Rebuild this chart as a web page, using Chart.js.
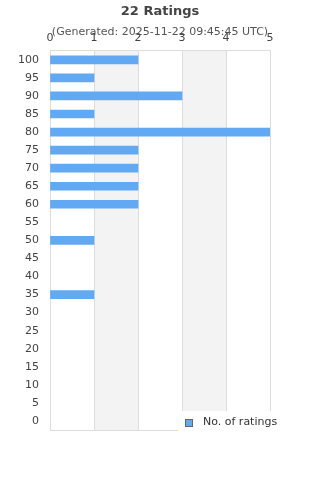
<!DOCTYPE html>
<html>
<head>
<meta charset="utf-8">
<script src="https://cdn.jsdelivr.net/npm/chart.js@4/dist/chart.umd.min.js"></script>
<style>
html,body{margin:0;padding:0;background:#fff;}
#wrap{width:320px;height:480px;position:relative;}
</style>
</head>
<body>
<div id="wrap"><canvas id="c" width="320" height="480"></canvas></div>
<script>
const titleText = '22 Ratings';
const subtitleText = '(Generated: 2025-11-22 09:45:45 UTC)';
const seriesLabel = 'No. of ratings';
const categories = ['100','95','90','85','80','75','70','65','60','55','50','45','40','35','30','25','20','15','10','5','0'];
const ratingCounts = [2,1,3,1,5,2,2,2,2,0,1,0,0,1,0,0,0,0,0,0,0];
const xTicks = [0,1,2,3,4,5];
const bands = [[1,2],[3,4]];

const FONT = "'DejaVu Sans', sans-serif";
const BAR = '#62a9f4';

const bandPlugin = {
  id: 'bands',
  beforeDraw(chart) {
    const {ctx, chartArea: a, scales: {x}} = chart;
    ctx.save();
    ctx.fillStyle = '#f3f3f3';
    bands.forEach(([s, e]) => {
      const x0 = x.getPixelForValue(s), x1 = x.getPixelForValue(e);
      ctx.fillRect(x0, a.top, x1 - x0, a.bottom - a.top);
    });
    ctx.restore();
  },
  afterDatasetsDraw(chart) {
    const {ctx, chartArea: a} = chart;
    ctx.save();
    ctx.strokeStyle = '#dddddd';
    ctx.lineWidth = 1;
    ctx.beginPath();
    ctx.moveTo(a.left, Math.round(a.bottom) + 0.5);
    ctx.lineTo(a.right, Math.round(a.bottom) + 0.5);
    ctx.stroke();
    ctx.restore();
  },
  afterDraw(chart) {
    const {ctx} = chart;
    ctx.save();
    ctx.fillStyle = '#ffffff';
    ctx.fillRect(178, 411, 110, 24);
    ctx.fillStyle = BAR;
    ctx.fillRect(185.5, 419.5, 7, 7);
    ctx.strokeStyle = '#666666';
    ctx.lineWidth = 1;
    ctx.strokeRect(185.5, 419.5, 7, 7);
    ctx.fillStyle = '#333333';
    ctx.font = '11px ' + FONT;
    ctx.textBaseline = 'middle';
    ctx.textAlign = 'left';
    ctx.fillText(chart.data.datasets[0].label, 203, 422.5);
    ctx.restore();
  }
};

new Chart(document.getElementById('c'), {
  type: 'bar',
  data: {
    labels: categories,
    datasets: [{
      label: seriesLabel,
      data: ratingCounts,
      backgroundColor: (c) => (c.raw ? BAR : 'rgba(0,0,0,0)'),
      borderWidth: 0,
      barThickness: 8
    }]
  },
  options: {
    indexAxis: 'y',
    responsive: false,
    animation: false,
    devicePixelRatio: 1,
    layout: {padding: {left: 0, right: 0, top: 0, bottom: 50}},
    plugins: {
      legend: {display: false},
      tooltip: {enabled: false},
      title: {
        display: true, text: titleText, color: '#444444',
        font: {family: FONT, size: 13, weight: 'bold', lineHeight: 1.2},
        padding: {top: 4, bottom: 6}
      },
      subtitle: {
        display: true, text: subtitleText, color: '#555555',
        font: {family: FONT, size: 11, lineHeight: 1.2},
        padding: {top: 0, bottom: -10}
      }
    },
    scales: {
      x: {
        position: 'top',
        min: 0, max: 5,
        afterFit(s) { s.height = 22; },
        afterBuildTicks(s) { s.ticks = xTicks.map(v => ({value: v})); },
        ticks: {color: '#444444', font: {family: FONT, size: 11}, padding: 6, maxRotation: 0, autoSkip: false},
        grid: {color: '#dddddd', drawTicks: false},
        border: {color: '#dddddd'}
      },
      y: {
        afterFit(s) { s.width = 50; },
        ticks: {color: '#444444', font: {family: FONT, size: 11}, padding: 11, autoSkip: false},
        grid: {display: false, drawTicks: false},
        border: {color: '#dddddd'}
      },
      yRight: {
        type: 'category',
        position: 'right',
        display: true,
        afterFit(s) { s.width = 50; },
        ticks: {display: false},
        grid: {display: false, drawTicks: false},
        border: {display: false}
      }
    }
  },
  plugins: [bandPlugin]
});
</script>
</body>
</html>
